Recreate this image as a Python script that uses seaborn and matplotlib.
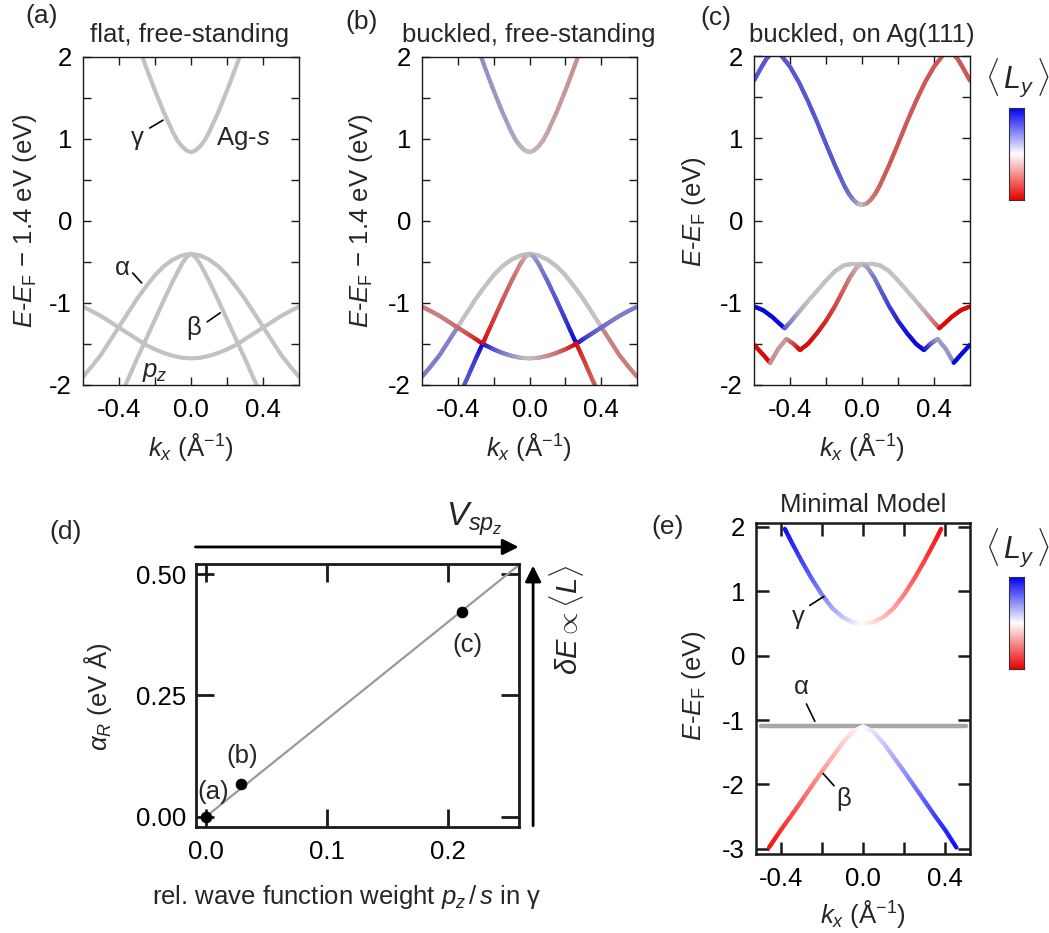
import numpy as np
import matplotlib
matplotlib.use("Agg")
import matplotlib.pyplot as plt
from matplotlib.collections import LineCollection
from matplotlib.colors import LinearSegmentedColormap
import seaborn as sns

sns.set_theme(style="white")
plt.rcParams['font.family'] = ['Liberation Sans', 'DejaVu Sans']
plt.rcParams['mathtext.fontset'] = 'custom'
plt.rcParams['mathtext.rm'] = 'Liberation Sans'
plt.rcParams['mathtext.it'] = 'Liberation Sans:italic'
plt.rcParams['mathtext.bf'] = 'Liberation Sans:bold'
plt.rcParams['axes.unicode_minus'] = False

# ---------------- data: panels (a)/(b) ----------------
K_GAMMA_AB = [-0.30, -0.25, -0.20, -0.15, -0.10, -0.075, -0.05, -0.025, 0.0, 0.025, 0.05, 0.075, 0.10, 0.15, 0.20, 0.25, 0.30]
E_GAMMA_AB = [2.18, 1.88, 1.59, 1.32, 1.08, 0.98, 0.91, 0.86, 0.84, 0.86, 0.91, 0.98, 1.08, 1.32, 1.59, 1.88, 2.18]
L_GAMMA_B = [0.25, 0.25, 0.22, 0.2, 0.15, 0.12, 0.08, 0.04, 0.0, -0.04, -0.08, -0.12, -0.15, -0.2, -0.22, -0.25, -0.25]

K_ALPHA_AB = [-0.6, -0.55, -0.5, -0.45, -0.4, -0.35, -0.3, -0.25, -0.2, -0.15, -0.1, -0.05, 0.0,
              0.05, 0.1, 0.15, 0.2, 0.25, 0.3, 0.35, 0.4, 0.45, 0.5, 0.55, 0.6]
E_ALPHA_AB = [-1.90, -1.77, -1.63, -1.46, -1.29, -1.12, -0.95, -0.80, -0.66, -0.55, -0.47, -0.42, -0.40,
              -0.42, -0.47, -0.55, -0.66, -0.80, -0.95, -1.12, -1.29, -1.46, -1.63, -1.77, -1.90]

K_BETA_AB = [-0.40, -0.35, -0.30, -0.26, -0.20, -0.15, -0.10, -0.05, -0.025, 0.0, 0.025, 0.05, 0.10, 0.15, 0.20, 0.26, 0.30, 0.35, 0.40]
E_BETA_AB = [-2.17, -1.93, -1.68, -1.49, -1.20, -0.96, -0.73, -0.52, -0.44, -0.40, -0.44, -0.52, -0.73, -0.96, -1.20, -1.49, -1.68, -1.93, -2.17]

K_PZ_AB = [-0.6, -0.55, -0.5, -0.45, -0.4, -0.35, -0.3, -0.26, -0.2, -0.15, -0.1, -0.05, 0.0,
           0.05, 0.1, 0.15, 0.2, 0.26, 0.3, 0.35, 0.4, 0.45, 0.5, 0.55, 0.6]
E_PZ_AB = [-1.045, -1.10, -1.16, -1.23, -1.30, -1.37, -1.44, -1.50, -1.565, -1.61, -1.645, -1.668, -1.675,
           -1.668, -1.645, -1.61, -1.565, -1.50, -1.44, -1.37, -1.30, -1.23, -1.16, -1.10, -1.045]

# panel (b): same bands, orbital angular momentum <Ly> along them (kinks repeated)
K_ALPHA_B = [-0.6, -0.55, -0.5, -0.45, -0.4, -0.4, -0.35, -0.3, -0.25, -0.2, -0.15, -0.1, -0.05, 0.0,
             0.05, 0.1, 0.15, 0.2, 0.25, 0.3, 0.35, 0.4, 0.4, 0.45, 0.5, 0.55, 0.6]
E_ALPHA_B = [-1.90, -1.77, -1.63, -1.46, -1.29, -1.29, -1.12, -0.95, -0.80, -0.66, -0.55, -0.47, -0.42, -0.40,
             -0.42, -0.47, -0.55, -0.66, -0.80, -0.95, -1.12, -1.29, -1.29, -1.46, -1.63, -1.77, -1.90]
L_ALPHA_B = [0.35, 0.35, 0.35, 0.33, 0.3, 0.0, 0.0, 0.0, 0.0, 0.0, 0.0, 0.0, 0.0, 0.0,
             0.0, 0.0, 0.0, 0.0, 0.0, 0.0, 0.0, 0.0, -0.3, -0.33, -0.35, -0.35, -0.35]

K_BETA_B = [-0.40, -0.35, -0.30, -0.26, -0.26, -0.20, -0.15, -0.10, -0.05, -0.025, 0.0,
            0.025, 0.05, 0.10, 0.15, 0.20, 0.26, 0.26, 0.30, 0.35, 0.40]
E_BETA_B = [-2.17, -1.93, -1.68, -1.49, -1.49, -1.20, -0.96, -0.73, -0.52, -0.44, -0.40,
            -0.44, -0.52, -0.73, -0.96, -1.20, -1.49, -1.49, -1.68, -1.93, -2.17]
L_BETA_B = [0.5, 0.55, 0.7, 0.95, -0.95, -0.7, -0.55, -0.45, -0.3, -0.15, 0.0,
            0.15, 0.3, 0.45, 0.55, 0.7, 0.95, -0.95, -0.7, -0.55, -0.5]

K_PZ_B = [-0.6, -0.55, -0.5, -0.45, -0.4, -0.35, -0.3, -0.26, -0.26, -0.2, -0.15, -0.1, -0.05, 0.0,
          0.05, 0.1, 0.15, 0.2, 0.26, 0.26, 0.3, 0.35, 0.4, 0.45, 0.5, 0.55, 0.6]
E_PZ_B = [-1.045, -1.10, -1.16, -1.23, -1.30, -1.37, -1.44, -1.50, -1.50, -1.565, -1.61, -1.645, -1.668, -1.675,
          -1.668, -1.645, -1.61, -1.565, -1.50, -1.50, -1.44, -1.37, -1.30, -1.23, -1.16, -1.10, -1.045]
L_PZ_B = [-0.35, -0.35, -0.35, -0.38, -0.45, -0.55, -0.75, -0.95, 0.95, 0.6, 0.4, 0.25, 0.12, 0.0,
          -0.12, -0.25, -0.4, -0.6, -0.95, 0.95, 0.75, 0.55, 0.45, 0.38, 0.35, 0.35, 0.35]

# ---------------- data: panel (c) ----------------
K_GAMMA_C = [-0.6, -0.56, -0.53, -0.49, -0.45, -0.4, -0.35, -0.3, -0.25, -0.2, -0.15, -0.1, -0.075, -0.05, -0.025, 0.0,
             0.025, 0.05, 0.075, 0.1, 0.15, 0.2, 0.25, 0.3, 0.35, 0.4, 0.45, 0.49, 0.53, 0.56, 0.6]
E_GAMMA_C = [1.70, 1.86, 1.97, 2.06, 2.01, 1.87, 1.68, 1.45, 1.20, 0.93, 0.67, 0.43, 0.33, 0.255, 0.205, 0.19,
             0.205, 0.255, 0.33, 0.43, 0.67, 0.93, 1.20, 1.45, 1.68, 1.87, 2.01, 2.06, 1.97, 1.86, 1.70]
L_GAMMA_C = [0.55, 0.55, 0.55, 0.55, 0.55, 0.55, 0.55, 0.55, 0.55, 0.55, 0.55, 0.5, 0.45, 0.35, 0.2, 0.0,
             -0.2, -0.35, -0.45, -0.5, -0.55, -0.55, -0.55, -0.55, -0.55, -0.55, -0.55, -0.55, -0.55, -0.55, -0.55]

K_V1_C = [-0.6, -0.55, -0.5, -0.43, -0.43, -0.4, -0.35, -0.3, -0.25, -0.2, -0.15, -0.1, -0.05, 0.0,
          0.05, 0.1, 0.15, 0.2, 0.25, 0.3, 0.35, 0.4, 0.43, 0.43, 0.5, 0.55, 0.6]
E_V1_C = [-1.045, -1.09, -1.17, -1.31, -1.31, -1.24, -1.11, -0.98, -0.855, -0.73, -0.615, -0.545, -0.525, -0.525,
          -0.525, -0.545, -0.615, -0.73, -0.855, -0.98, -1.11, -1.24, -1.31, -1.31, -1.17, -1.09, -1.045]
L_V1_C = [0.95, 0.95, 0.95, 0.95, 0.55, 0.35, 0.12, 0.0, 0.0, 0.0, 0.0, 0.0, 0.0, 0.0,
          0.0, 0.0, 0.0, 0.0, 0.0, 0.0, -0.12, -0.35, -0.55, -0.95, -0.95, -0.95, -0.95]

K_V2_C = [-0.6, -0.55, -0.51, -0.51, -0.465, -0.42, -0.38, -0.344, -0.3, -0.25, -0.2, -0.15, -0.1, -0.067, -0.03, 0.0,
          0.03, 0.067, 0.1, 0.15, 0.2, 0.25, 0.3, 0.344, 0.38, 0.42, 0.465, 0.51, 0.51, 0.55, 0.6]
E_V2_C = [-1.51, -1.63, -1.73, -1.73, -1.56, -1.44, -1.50, -1.575, -1.50, -1.37, -1.22, -1.04, -0.83, -0.69, -0.57, -0.525,
          -0.57, -0.69, -0.83, -1.04, -1.22, -1.37, -1.50, -1.575, -1.50, -1.44, -1.56, -1.73, -1.73, -1.63, -1.51]
L_V2_C = [-0.95, -0.95, -0.95, -0.3, -0.2, -0.2, -0.6, -0.95, -0.95, -0.9, -0.8, -0.65, -0.5, -0.35, -0.15, 0.0,
          0.15, 0.35, 0.5, 0.65, 0.8, 0.9, 0.95, 0.95, 0.6, 0.2, 0.2, 0.3, 0.95, 0.95, 0.95]

# ---------------- data: panel (d) ----------------
D_WEIGHT = [0.0, 0.029, 0.211]
D_ALPHA_R = [0.0, 0.068, 0.421]
D_LABELS = ['(a)', '(b)', '(c)']
D_LABEL_X = [0.0062, 0.030, 0.216]
D_LABEL_Y = [0.051, 0.125, 0.353]
D_FIT_X = [0.0, 0.257]
D_FIT_Y = [0.0, 0.516]

# ---------------- data: panel (e) ----------------
K_GAMMA_E = [-0.38, -0.35, -0.3, -0.25, -0.2, -0.15, -0.1, -0.05, 0.0, 0.05, 0.1, 0.15, 0.2, 0.25, 0.3, 0.35, 0.38]
E_GAMMA_E = [1.97, 1.78, 1.48, 1.20, 0.95, 0.74, 0.60, 0.52, 0.50, 0.52, 0.60, 0.74, 0.95, 1.20, 1.48, 1.78, 1.97]
L_GAMMA_E = [1.0, 0.92, 0.79, 0.66, 0.53, 0.39, 0.26, 0.13, 0.0, -0.13, -0.26, -0.39, -0.53, -0.66, -0.79, -0.92, -1.0]

K_BETA_E = [-0.457, -0.4, -0.35, -0.3, -0.25, -0.2, -0.15, -0.1, -0.05, 0.0, 0.05, 0.1, 0.15, 0.2, 0.25, 0.3, 0.35, 0.4, 0.454]
E_BETA_E = [-2.98, -2.71, -2.49, -2.26, -2.03, -1.80, -1.58, -1.36, -1.18, -1.10, -1.18, -1.36, -1.58, -1.80, -2.03, -2.26, -2.49, -2.71, -2.98]
L_BETA_E = [-1.0, -0.88, -0.77, -0.66, -0.55, -0.44, -0.33, -0.22, -0.11, 0.0, 0.11, 0.22, 0.33, 0.44, 0.55, 0.66, 0.77, 0.88, 1.0]

K_ALPHA_E = [-0.495, 0.5]
E_ALPHA_E = [-1.1, -1.1]

# ticks
XT_ABC = [-0.4, -0.2, 0.0, 0.2, 0.4]
XTL_ABC = ['-0.4', '', '0.0', '', '0.4']
YT_ABC = [-2, -1.5, -1, -0.5, 0, 0.5, 1, 1.5, 2]
YTL_ABC = ['-2', '', '-1', '', '0', '', '1', '', '2']
XT_D = [0.0, 0.1, 0.2]
XTL_D = ['0.0', '0.1', '0.2']
YT_D = [0.0, 0.25, 0.5]
YTL_D = ['0.00', '0.25', '0.50']
XT_E = [-0.4, -0.2, 0.0, 0.2, 0.4]
XTL_E = ['-0.4', '', '0.0', '', '0.4']
YT_E = [-3, -2, -1, 0, 1, 2]
YTL_E = ['-3', '-2', '-1', '0', '1', '2']

# ---------------- styling ----------------
FS = 18.5
GRAY_LINE = (0.76, 0.76, 0.76)
BLUE_B = (0.0, 0.0, 0.86)
RED_B = (0.86, 0.0, 0.0)
BLUE_E = (0.05, 0.05, 1.0)
RED_E = (1.0, 0.05, 0.05)

W, H = 1049, 933
fig = plt.figure(figsize=(W / 100, H / 100), dpi=100)


def px_axes(x0, y0, x1, y1):
    return fig.add_axes([x0 / W, 1 - y1 / H, (x1 - x0) / W, (y1 - y0) / H])


def ftext(x, y, s, **kw):
    kw.setdefault('fontsize', FS)
    fig.text(x / W, 1 - y / H, s, **kw)


def style_axes(ax, lw, length, width, padx=9.5, pady=8):
    for sp in ax.spines.values():
        sp.set_visible(True)
        sp.set_linewidth(lw)
        sp.set_color('#1a1a1a')
    ax.tick_params(direction='in', top=True, right=True, bottom=True, left=True,
                   length=length, width=width, color='#1a1a1a', labelsize=FS, labelcolor='black')
    ax.tick_params(axis='x', pad=padx)
    ax.tick_params(axis='y', pad=pady)
    ax.grid(False)
    ax.set_xlabel('')
    ax.set_ylabel('')


def mix(L, base, blue, red):
    tgt = blue if L > 0 else red
    a = min(abs(L), 1.0)
    return tuple((1 - a) * b + a * t for b, t in zip(base, tgt))


def colored_band(ax, k, e, L, base, blue, red, lw, nsub=8):
    segs, cols = [], []
    for i in range(len(k) - 1):
        if k[i] == k[i + 1] and e[i] == e[i + 1]:
            continue
        for j in range(nsub):
            t0, t1 = j / nsub, (j + 1) / nsub
            x0 = k[i] + (k[i + 1] - k[i]) * t0
            x1 = k[i] + (k[i + 1] - k[i]) * t1
            y0 = e[i] + (e[i + 1] - e[i]) * t0
            y1 = e[i] + (e[i + 1] - e[i]) * t1
            lm = L[i] + (L[i + 1] - L[i]) * (t0 + t1) / 2
            segs.append([(x0, y0), (x1, y1)])
            cols.append(mix(lm, base, blue, red))
    lc = LineCollection(segs, colors=cols, linewidths=lw, capstyle='round', joinstyle='round', zorder=2)
    ax.add_collection(lc)


def band_frame(ax):
    ax.set_xlim(-0.6, 0.6)
    ax.set_ylim(-2, 2)
    ax.set_xticks(XT_ABC)
    ax.set_xticklabels(XTL_ABC)
    ax.set_yticks(YT_ABC)
    ax.set_yticklabels(YTL_ABC)
    style_axes(ax, 1.0, 6, 1.0)


# ---------------- panel (a) ----------------
ax_a = px_axes(83, 57, 299, 385)
for kk, ee in [(K_GAMMA_AB, E_GAMMA_AB), (K_ALPHA_AB, E_ALPHA_AB), (K_BETA_AB, E_BETA_AB), (K_PZ_AB, E_PZ_AB)]:
    sns.lineplot(x=kk, y=ee, ax=ax_a, color=GRAY_LINE, lw=3.0, estimator=None, sort=False)
band_frame(ax_a)
ax_a.text(-0.296, 1.01, 'γ', fontsize=FS, ha='center', va='center')
ax_a.plot([-0.229, -0.155], [1.134, 1.23], color='black', lw=1.2)
ax_a.text(0.291, 1.0, 'Ag-$s$', fontsize=FS, ha='center', va='center')
ax_a.text(-0.38, -0.575, 'α', fontsize=FS, ha='center', va='center')
ax_a.plot([-0.324, -0.274], [-0.634, -0.756], color='black', lw=1.2)
ax_a.text(0.017, -1.30, 'β', fontsize=FS, ha='center', va='center')
ax_a.plot([0.09, 0.162], [-1.23, -1.12], color='black', lw=1.2)
ax_a.text(-0.20, -1.84, '$p_z$', fontsize=FS, ha='center', va='center')

# ---------------- panel (b) ----------------
ax_b = px_axes(422, 57, 637, 385)
for kk, ee, ll in [(K_GAMMA_AB, E_GAMMA_AB, L_GAMMA_B), (K_ALPHA_B, E_ALPHA_B, L_ALPHA_B),
                   (K_PZ_B, E_PZ_B, L_PZ_B), (K_BETA_B, E_BETA_B, L_BETA_B)]:
    colored_band(ax_b, kk, ee, ll, GRAY_LINE, BLUE_B, RED_B, 3.0)
band_frame(ax_b)

# ---------------- panel (c) ----------------
ax_c = px_axes(754, 56, 970, 385)
for kk, ee, ll in [(K_GAMMA_C, E_GAMMA_C, L_GAMMA_C), (K_V1_C, E_V1_C, L_V1_C), (K_V2_C, E_V2_C, L_V2_C)]:
    colored_band(ax_c, kk, ee, ll, GRAY_LINE, BLUE_B, RED_B, 3.0)
band_frame(ax_c)

# ---------------- panel (d) ----------------
ax_d = px_axes(196.4, 564.3, 518.6, 826.8)
sns.lineplot(x=D_FIT_X, y=D_FIT_Y, ax=ax_d, color='#9a9a9a', lw=1.6, estimator=None, sort=False, zorder=1)
sns.scatterplot(x=D_WEIGHT, y=D_ALPHA_R, ax=ax_d, color='black', s=60, edgecolor='black', zorder=3)
for lab, lx, ly in zip(D_LABELS, D_LABEL_X, D_LABEL_Y):
    ax_d.text(lx, ly, lab, fontsize=FS, ha='center', va='center')
ax_d.set_xlim(-0.0077, 0.258)
ax_d.set_ylim(-0.0206, 0.52)
ax_d.set_xticks(XT_D)
ax_d.set_xticklabels(XTL_D)
ax_d.set_yticks(YT_D)
ax_d.set_yticklabels(YTL_D)
style_axes(ax_d, 2.0, 13, 2.0, padx=9.5, pady=7.5)
ax_d.annotate('', xy=(1.0, 1.066), xytext=(-0.003, 1.066), xycoords='axes fraction',
              arrowprops=dict(arrowstyle='-|>', lw=2.0, color='black', mutation_scale=24, shrinkA=0, shrinkB=0),
              annotation_clip=False)
ax_d.annotate('', xy=(1.045, 0.995), xytext=(1.045, 0.004), xycoords='axes fraction',
              arrowprops=dict(arrowstyle='-|>', lw=2.0, color='black', mutation_scale=24, shrinkA=0, shrinkB=0),
              annotation_clip=False)

# ---------------- panel (e) ----------------
ax_e = px_axes(756, 523, 970, 854)
sns.lineplot(x=K_ALPHA_E, y=E_ALPHA_E, ax=ax_e, color='#a8a8a8', lw=3.2, estimator=None, sort=False)
colored_band(ax_e, K_GAMMA_E, E_GAMMA_E, L_GAMMA_E, (1, 1, 1), BLUE_E, RED_E, 3.0)
colored_band(ax_e, K_BETA_E, E_BETA_E, L_BETA_E, (1, 1, 1), BLUE_E, RED_E, 3.0)
ax_e.set_xlim(-0.52, 0.52)
ax_e.set_ylim(-3.08, 2.06)
ax_e.set_xticks(XT_E)
ax_e.set_xticklabels(XTL_E)
ax_e.set_yticks(YT_E)
ax_e.set_yticklabels(YTL_E)
style_axes(ax_e, 1.8, 9, 1.8)
ax_e.text(-0.316, 0.60, 'γ', fontsize=FS, ha='center', va='center')
ax_e.plot([-0.259, -0.19], [0.78, 0.92], color='black', lw=1.2)
ax_e.text(-0.299, -0.49, 'α', fontsize=FS, ha='center', va='center')
ax_e.plot([-0.275, -0.234], [-0.75, -1.02], color='black', lw=1.2)
ax_e.text(-0.093, -2.23, 'β', fontsize=FS, ha='center', va='center')
ax_e.plot([-0.194, -0.141], [-1.83, -2.02], color='black', lw=1.2)

# ---------------- colour bars ----------------
cmap = LinearSegmentedColormap.from_list('ly', [(0.92, 0.0, 0.0), (1, 1, 1), (0.0, 0.0, 0.95)])
grad = np.linspace(-1, 1, 256).reshape(-1, 1)
for box in [(1009, 108, 1024, 200), (1009, 577, 1024, 669)]:
    cax = px_axes(*box)
    cax.imshow(grad, cmap=cmap, aspect='auto', origin='lower')
    cax.set_xticks([])
    cax.set_yticks([])
    for sp in cax.spines.values():
        sp.set_visible(True)
        sp.set_linewidth(0.8)
        sp.set_color('#333333')

# ---------------- figure texts ----------------
ftext(42, 16, '(a)', fontsize=19, ha='center', va='center')
ftext(362, 22, '(b)', fontsize=19, ha='center', va='center')
ftext(716, 18, '(c)', fontsize=19, ha='center', va='center')
ftext(66, 532, '(d)', fontsize=19, ha='center', va='center')
ftext(668, 527, '(e)', fontsize=19, ha='center', va='center')

ftext(190, 42, 'flat, free-standing', ha='center', va='baseline')
ftext(529, 42, 'buckled, free-standing', ha='center', va='baseline')
ftext(862, 42, 'buckled, on Ag(111)', ha='center', va='baseline')
ftext(863, 512, 'Minimal Model', ha='center', va='baseline')

ylab_shift = r'$E$-$E_\mathrm{F}$ − 1.4 eV (eV)'
ftext(25, 221, ylab_shift, rotation=90, ha='center', va='center')
ftext(361, 221, ylab_shift, rotation=90, ha='center', va='center')
ftext(694, 212, r'$E$-$E_\mathrm{F}$ (eV)', rotation=90, ha='center', va='center')
ftext(98, 697, r'$\alpha_R$ (eV Å)', rotation=90, ha='center', va='center')
ftext(694, 686, r'$E$-$E_\mathrm{F}$ (eV)', rotation=90, ha='center', va='center')

klab = r'$k_x$ (Å$^{\mathrm{-1}}$)'
ftext(191, 447, klab, ha='center', va='center')
ftext(529, 447, klab, ha='center', va='center')
ftext(862, 447, klab, ha='center', va='center')
ftext(863, 914, klab, ha='center', va='center')
ftext(347, 897, r'rel. wave function weight $p_z\,/\,s$ in γ', ha='center', va='center')

ftext(1017, 78, r'$\langle\,L_y\,\rangle$', fontsize=22, ha='center', va='center')
ftext(1017, 548, r'$\langle\,L_y\,\rangle$', fontsize=22, ha='center', va='center')
ftext(566, 620, r'$\delta E\propto\langle L\rangle$', fontsize=21, rotation=90, ha='center', va='center')
ftext(446, 526, r'$V_{sp_z}$', fontsize=24, ha='left', va='baseline')

fig.savefig('out.png', dpi=100)
